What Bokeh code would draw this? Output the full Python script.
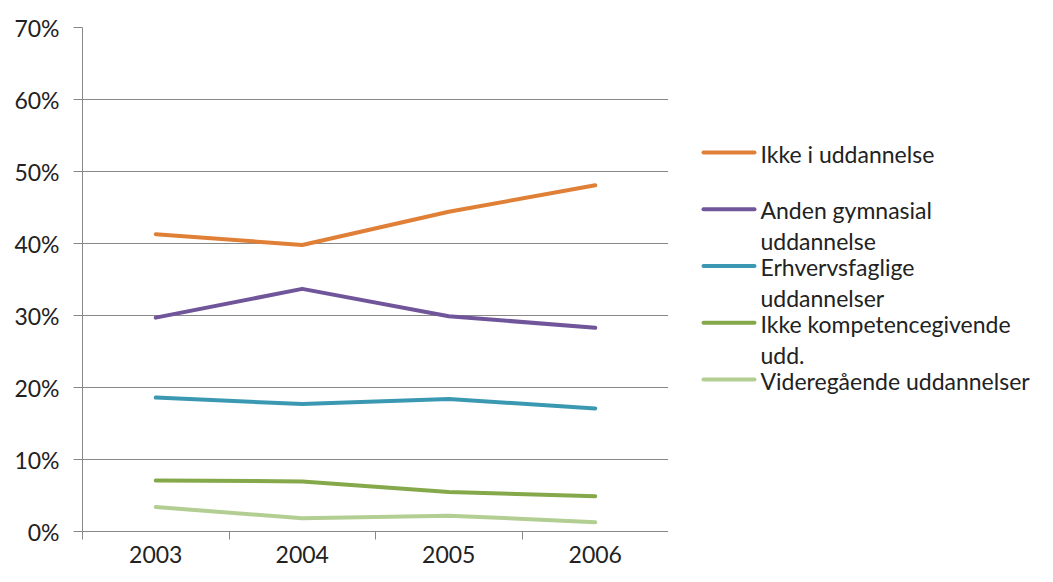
from bokeh.plotting import figure
from bokeh.layouts import row
from bokeh.models import FixedTicker, PrintfTickFormatter
from bokeh.core.properties import value
from bokeh.embed import file_html
from bokeh.resources import INLINE

years = ["2003", "2004", "2005", "2006"]
ikke_i_udd = [41.3, 39.8, 44.4, 48.1]
anden_gym = [29.7, 33.7, 29.9, 28.3]
erhvervsfaglige = [18.6, 17.7, 18.4, 17.1]
ikke_kompetence = [7.1, 6.95, 5.5, 4.9]
videregaaende = [3.4, 1.85, 2.2, 1.3]

series_names = [
    "Ikke i uddannelse",
    "Anden gymnasial\nuddannelse",
    "Erhvervsfaglige\nuddannelser",
    "Ikke kompetencegivende\nudd.",
    "Videregående uddannelser",
]
series_values = [ikke_i_udd, anden_gym, erhvervsfaglige, ikke_kompetence, videregaaende]
colors = ["#E07F36", "#71559A", "#3A98B2", "#84A84A", "#B3CE92"]

FONT = "Lato"
GRAY = "#888888"
TXT = "#222222"
H = 566
TOP, BOTTOM = 27, 35

# ---------------- main chart ----------------
p = figure(width=668, height=H, output_backend="svg", toolbar_location=None,
           x_range=(0, len(years)), y_range=(0, 70),
           min_border_left=82, min_border_right=0, min_border_top=TOP, min_border_bottom=BOTTOM)
p.outline_line_color = None

xs = [i + 0.5 for i in range(len(years))]
for vals, c in zip(series_values, colors):
    p.line(xs, vals, line_color=c, line_width=4, line_cap="round", line_join="round")

p.yaxis.ticker = FixedTicker(ticks=list(range(0, 71, 10)))
p.yaxis.formatter = PrintfTickFormatter(format="%d%%")
p.yaxis.axis_line_color = GRAY
p.yaxis.major_tick_line_color = GRAY
p.yaxis.major_tick_out = 9
p.yaxis.major_tick_in = 0
p.yaxis.minor_tick_line_color = None
p.yaxis.major_label_text_font = FONT
p.yaxis.major_label_text_font_size = "23px"
p.yaxis.major_label_text_color = TXT
p.yaxis.major_label_standoff = 14

p.xaxis.ticker = FixedTicker(ticks=xs, minor_ticks=list(range(0, len(years) + 1)))
p.xaxis.major_label_overrides = {x: y for x, y in zip(xs, years)}
p.xaxis.axis_line_color = GRAY
p.xaxis.major_tick_line_color = None
p.xaxis.minor_tick_line_color = GRAY
p.xaxis.minor_tick_out = 8
p.xaxis.minor_tick_in = 0
p.xaxis.major_tick_out = 0
p.xaxis.major_tick_in = 0
p.xaxis.major_label_text_font = FONT
p.xaxis.major_label_text_font_size = "23px"
p.xaxis.major_label_text_color = TXT
p.xaxis.major_label_standoff = 6

p.xgrid.grid_line_color = None
p.ygrid.grid_line_color = GRAY
p.ygrid.grid_line_width = 1

# ---------------- legend panel (page pixel coordinates, y down) ----------------
LW = 369
lg = figure(width=LW, height=H, output_backend="svg", toolbar_location=None,
            x_range=(668, 668 + LW), y_range=(H - BOTTOM, TOP),
            x_axis_location=None, y_axis_location=None,
            min_border_left=0, min_border_right=0,
            min_border_top=TOP, min_border_bottom=BOTTOM)
lg.outline_line_color = None
lg.grid.grid_line_color = None

glyph_y = [152 + 56.75 * i for i in range(len(series_names))]
lg.segment(x0=[703] * len(colors), x1=[754] * len(colors), y0=glyph_y, y1=glyph_y,
           line_color=colors, line_width=4, line_cap="round")

tx, ty, tt = [], [], []
for name, gy in zip(series_names, glyph_y):
    for j, line in enumerate(name.split("\n")):
        tx.append(760)
        ty.append(gy + 1 + 31 * j)
        tt.append(line)
lg.text(x=tx, y=ty, text=tt, text_font=value(FONT), text_font_size="23px",
        text_color=TXT, text_baseline="middle", text_align="left")

open("out.html", "w").write(file_html(row(p, lg, spacing=0), INLINE))
